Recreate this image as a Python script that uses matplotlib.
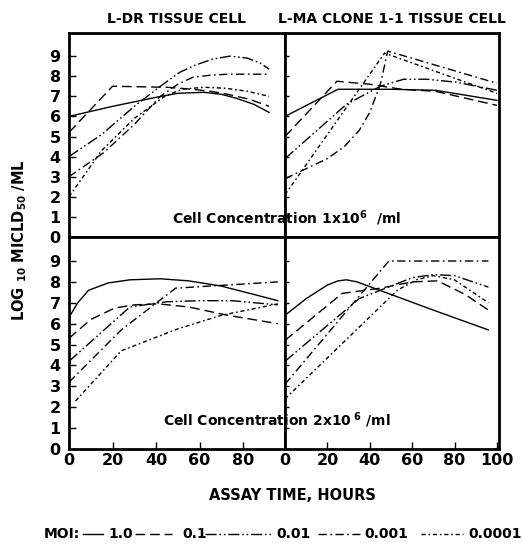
import numpy as np
import matplotlib
matplotlib.use('Agg')
import matplotlib.pyplot as plt
from matplotlib.lines import Line2D

plt.rcParams['font.family'] = 'DejaVu Sans'
plt.rcParams['font.weight'] = 'bold'
plt.rcParams['mathtext.default'] = 'bf'

moi = ['1.0', '0.1', '0.01', '0.001', '0.0001']
styles = ['-', (0, (7, 3.5)), (0, (8, 2, 1.2, 2, 1.2, 2)), (0, (6, 2.5, 1.2, 2.5)),
          (0, (3, 2, 1.2, 2))]

# L-DR tissue cell, 1x10^6 /ml
ldr1_x = [
    [0, 20, 40, 50, 62, 70, 77, 85, 92],
    [0, 20, 45, 57, 65, 73, 83, 92],
    [0, 15, 30, 42, 51, 58, 66, 74, 82, 88, 92],
    [0, 16, 30, 42, 50, 57, 65, 73, 82, 92],
    [0, 15, 30, 44, 52, 62, 72, 82, 92],
]
ldr1_y = [
    [6.0, 6.5, 6.95, 7.15, 7.2, 7.1, 6.9, 6.6, 6.2],
    [5.2, 7.5, 7.45, 7.35, 7.25, 7.1, 6.85, 6.5],
    [4.0, 5.1, 6.5, 7.5, 8.2, 8.55, 8.85, 9.0, 8.9, 8.65, 8.35],
    [3.0, 4.2, 5.6, 7.0, 7.6, 7.95, 8.05, 8.1, 8.1, 8.1],
    [2.0, 4.3, 5.9, 7.0, 7.35, 7.45, 7.4, 7.25, 7.0],
]

# L-MA clone 1-1 tissue cell, 1x10^6 /ml
lma1_x = [
    [0, 25, 50, 71, 100],
    [0, 24.5, 40, 55, 71, 100],
    [0, 29, 45, 56, 67, 81, 100],
    [0, 10, 20, 28, 35, 40, 45, 48.5, 100],
    [0, 47, 100],
]
lma1_y = [
    [6.0, 7.35, 7.35, 7.3, 6.8],
    [5.0, 7.75, 7.6, 7.35, 7.25, 6.55],
    [3.9, 6.6, 7.5, 7.85, 7.85, 7.7, 7.3],
    [2.9, 3.4, 3.9, 4.5, 5.3, 6.2, 7.6, 9.25, 7.65],
    [2.1, 9.15, 7.15],
]

# L-DR tissue cell, 2x10^6 /ml
ldr2_x = [
    [0, 4, 9, 18, 28, 42, 55, 70, 85, 96],
    [0, 10, 21, 30, 41, 55, 73, 96],
    [0, 28, 45, 60, 75, 96],
    [0, 24, 49, 96],
    [3, 24, 50, 70, 96],
]
ldr2_y = [
    [6.3, 7.0, 7.6, 7.95, 8.1, 8.15, 8.05, 7.8, 7.4, 7.1],
    [5.3, 6.2, 6.75, 6.9, 6.95, 6.8, 6.4, 6.0],
    [4.2, 6.8, 7.05, 7.1, 7.1, 6.9],
    [3.2, 5.7, 7.7, 8.0],
    [2.3, 4.7, 5.75, 6.4, 6.95],
]

# L-MA clone 1-1 tissue cell, 2x10^6 /ml
lma2_x = [
    [0, 10, 20, 25, 29, 34, 50, 70, 96],
    [0, 27, 45, 60, 72, 85, 96],
    [0, 35, 50, 60, 70, 80, 96],
    [0, 49, 96],
    [0, 53, 62, 70, 80, 96],
]
lma2_y = [
    [6.4, 7.2, 7.85, 8.05, 8.1, 8.0, 7.4, 6.65, 5.7],
    [5.2, 7.45, 7.7, 8.0, 8.05, 7.4, 6.65],
    [4.2, 7.2, 7.8, 8.2, 8.35, 8.3, 7.75],
    [3.1, 9.0, 9.0],
    [2.4, 7.6, 8.1, 8.3, 8.1, 7.0],
]

W, H = 522, 547
fig = plt.figure(figsize=(W / 100, H / 100), dpi=100)


def box(x0, x1, y0, y1):
    return [x0 / W, 1 - y1 / H, (x1 - x0) / W, (y1 - y0) / H]


ax_tl = fig.add_axes(box(69, 285, 33, 237))
ax_tr = fig.add_axes(box(285, 499, 33, 237))
ax_bl = fig.add_axes(box(69, 285, 237, 449))
ax_br = fig.add_axes(box(285, 499, 237, 449))

panels = [(ax_tl, ldr1_x, ldr1_y), (ax_tr, lma1_x, lma1_y),
          (ax_bl, ldr2_x, ldr2_y), (ax_br, lma2_x, lma2_y)]

for ax, xs, ys in panels:
    for x, y, ls in zip(xs, ys, styles):
        ax.plot(x, y, color='black', lw=1.0, linestyle=ls)
    ax.set_ylim(0, 10.15)
    ax.set_yticks(range(0, 10))
    for s in ax.spines.values():
        s.set_linewidth(2.0)
    ax.tick_params(axis='both', direction='in', width=1.0, labelsize=11.5)
    ax.tick_params(axis='y', length=5, pad=6)
    ax.tick_params(axis='x', length=5, pad=3)

ax_tl.set_xlim(0, 99.3)
ax_bl.set_xlim(0, 99.3)
ax_tr.set_xlim(0, 101)
ax_br.set_xlim(0, 101)

for ax in (ax_tl, ax_tr):
    ax.set_xticks([])
for ax in (ax_tr, ax_br):
    ax.tick_params(axis='y', labelleft=False, length=3)
ax_bl.set_xticks([0, 20, 40, 60, 80])
ax_br.set_xticks([0, 20, 40, 60, 80, 100])

ax_tl.set_title('L-DR TISSUE CELL', fontsize=10, fontweight='bold', pad=7)
ax_tr.set_title('L-MA CLONE 1-1 TISSUE CELL', fontsize=10, fontweight='bold', pad=7)

fig.text(172 / W, 1 - 224 / H, r'Cell Concentration 1x10$^{6}$  /ml',
         fontsize=10, fontweight='bold', va='baseline', ha='left')
fig.text(163 / W, 1 - 425 / H, r'Cell Concentration 2x10$^{\ 6}$ /ml',
         fontsize=10, fontweight='bold', va='baseline', ha='left')

fig.text(20 / W, 1 - 240 / H, r'LOG $_{10}$ MICLD$_{50}$ /ML', rotation=90,
         fontsize=10.5, fontweight='bold', ha='center', va='center')
fig.text(292 / W, 1 - 495 / H, 'ASSAY TIME, HOURS', fontsize=10.5,
         fontweight='bold', ha='center', va='center')

# legend row
ly = 1 - 534 / H
fig.text(44 / W, ly, 'MOI:', fontsize=10, fontweight='bold', va='center', ha='left')
seg = [(83, 103), (135, 172), (205, 271), (318, 360), (421, 463)]
lab = [108, 182, 276, 364, 468]
for (a, b), lx, ls, m in zip(seg, lab, styles, moi):
    fig.add_artist(Line2D([a / W, b / W], [ly, ly], color='black', lw=1.0,
                          linestyle=ls, transform=fig.transFigure))
    fig.text(lx / W, ly, m, fontsize=10, fontweight='bold', va='center', ha='left')

fig.savefig('out.png', dpi=100)
